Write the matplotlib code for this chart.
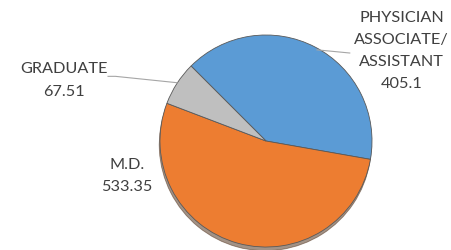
import matplotlib.pyplot as plt

labels = ["PHYSICIAN\nASSOCIATE/\nASSISTANT", "M.D.", "GRADUATE"]
values = [405.1, 533.35, 67.51]
colors = ["#5B9BD5", "#ED7D31", "#BFBFBF"]

plt.rcParams["font.family"] = ["Lato", "DejaVu Sans"]

fig = plt.figure(figsize=(4.51, 2.5), dpi=100)
ax = fig.add_axes([0, 0, 1, 1])

wedges, _ = ax.pie(values, colors=colors, startangle=135, counterclock=False,
                   radius=1.0, wedgeprops=dict(edgecolor="#595959", linewidth=0.6),
                   shadow=dict(ox=-0.005, oy=-0.025, shade=0.7))

ax.set_xlim(-2.509, 1.745)
ax.set_ylim(-1.028, 1.330)
ax.set_aspect("equal")
ax.axis("off")

txt = dict(ha="center", va="center", fontsize=11.7, color="#404040", linespacing=1.75)
ax.text(1.28, 0.85, f"{labels[0]}\n{values[0]:g}", **txt)
ax.text(-1.31, -0.33, f"{labels[1]}\n{values[1]:g}", **txt)
ax.text(-1.906, 0.57, f"{labels[2]}\n{values[2]:g}", **txt)

# leader lines
ax.plot([0.48, 0.79], [0.86, 0.83], color="#A6A6A6", lw=0.8)
ax.plot([-1.49, -1.42, -0.84], [0.61, 0.61, 0.55], color="#A6A6A6", lw=0.8)

fig.savefig("out.png", dpi=100)
